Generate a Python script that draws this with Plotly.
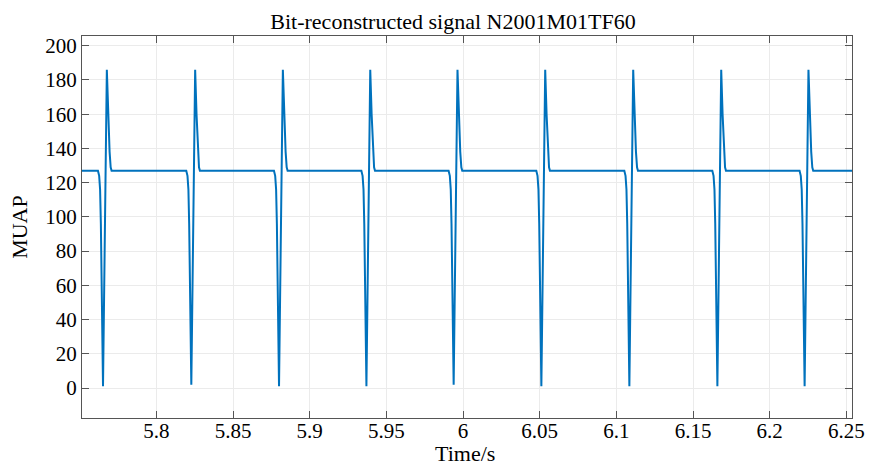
import plotly.graph_objects as go

# Spike-train parameters (times in seconds, amplitudes in MUAP units)
trough_times = [5.7652, 5.8228, 5.8800, 5.9370, 5.9939, 6.0511, 6.1085, 6.1659, 6.2228]
trough_vals = [1, 2, 1, 1, 2, 1, 1, 1, 1]
peak_vals = [186, 186, 186, 186, 186, 186, 186, 186, 186]
baseline = 127

# Waveform shape around each trough (offsets in ms)
pre_offsets = [-3.3, -2.5, -1.9, -1.4]
pre_vals = [127, 124, 116, 96]
peak_offset = 2.5
post_offsets = [3.4, 4.3, 5.0, 5.6]
post_vals = [160, 138, 129, 127]

t_start, t_end = 5.7515, 6.2537

x_ticks = [5.8, 5.85, 5.9, 5.95, 6.0, 6.05, 6.1, 6.15, 6.2, 6.25]
x_ticktext = ["5.8", "5.85", "5.9", "5.95", "6", "6.05", "6.1", "6.15", "6.2", "6.25"]
y_ticks = [0, 20, 40, 60, 80, 100, 120, 140, 160, 180, 200]

# assemble the reconstructed signal
t = [t_start]
y = [baseline]
for tt, tv, pv in zip(trough_times, trough_vals, peak_vals):
    for o, v in zip(pre_offsets, pre_vals):
        t.append(tt + o / 1000.0)
        y.append(v)
    t.append(tt)
    y.append(tv)
    t.append(tt + peak_offset / 1000.0)
    y.append(pv)
    for o, v in zip(post_offsets, post_vals):
        t.append(tt + o / 1000.0)
        y.append(v)
t.append(t_end)
y.append(baseline)

FONT = "Liberation Serif"
AX = "#555555"

fig = go.Figure()
fig.add_trace(go.Scatter(x=t, y=y, mode="lines",
                         line=dict(color="#0072BD", width=2)))

fig.update_layout(
    width=880, height=466,
    margin=dict(l=82, r=28, t=36, b=48),
    paper_bgcolor="white", plot_bgcolor="white",
    showlegend=False,
    font=dict(family=FONT, color="black", size=21),
    title=dict(text="Bit-reconstructed signal N2001M01TF60",
               font=dict(family=FONT, size=22, color="black"),
               x=453 / 880, xref="container", xanchor="center",
               y=1 - 21.5 / 466, yref="container", yanchor="middle"),
)
fig.update_xaxes(
    range=[t_start, t_end], tickvals=x_ticks, ticktext=x_ticktext,
    ticks="inside", ticklen=7, tickcolor=AX, showline=True, linecolor=AX,
    linewidth=1, mirror="ticks", showgrid=True, gridcolor="#ebebeb",
    zeroline=False, ticklabelstandoff=-6,
    tickfont=dict(size=21, family=FONT, color="black"),
)
fig.update_yaxes(
    range=[-17.5, 205.7], tickvals=y_ticks,
    ticks="inside", ticklen=7, tickcolor=AX, showline=True, linecolor=AX,
    linewidth=1, mirror="ticks", showgrid=True, gridcolor="#ebebeb",
    zeroline=False, tickfont=dict(size=21, family=FONT, color="black"),
)
fig.add_annotation(text="Time/s", xref="paper", yref="paper",
                   x=0.498, y=-0.132, xanchor="center", yanchor="bottom",
                   showarrow=False, font=dict(family=FONT, size=22, color="black"))
fig.add_annotation(text="MUAP", xref="paper", yref="paper",
                   x=-0.082, y=0.5, xanchor="center", yanchor="middle", textangle=-90,
                   showarrow=False, font=dict(family=FONT, size=22, color="black"))

fig.write_html("out.html")
